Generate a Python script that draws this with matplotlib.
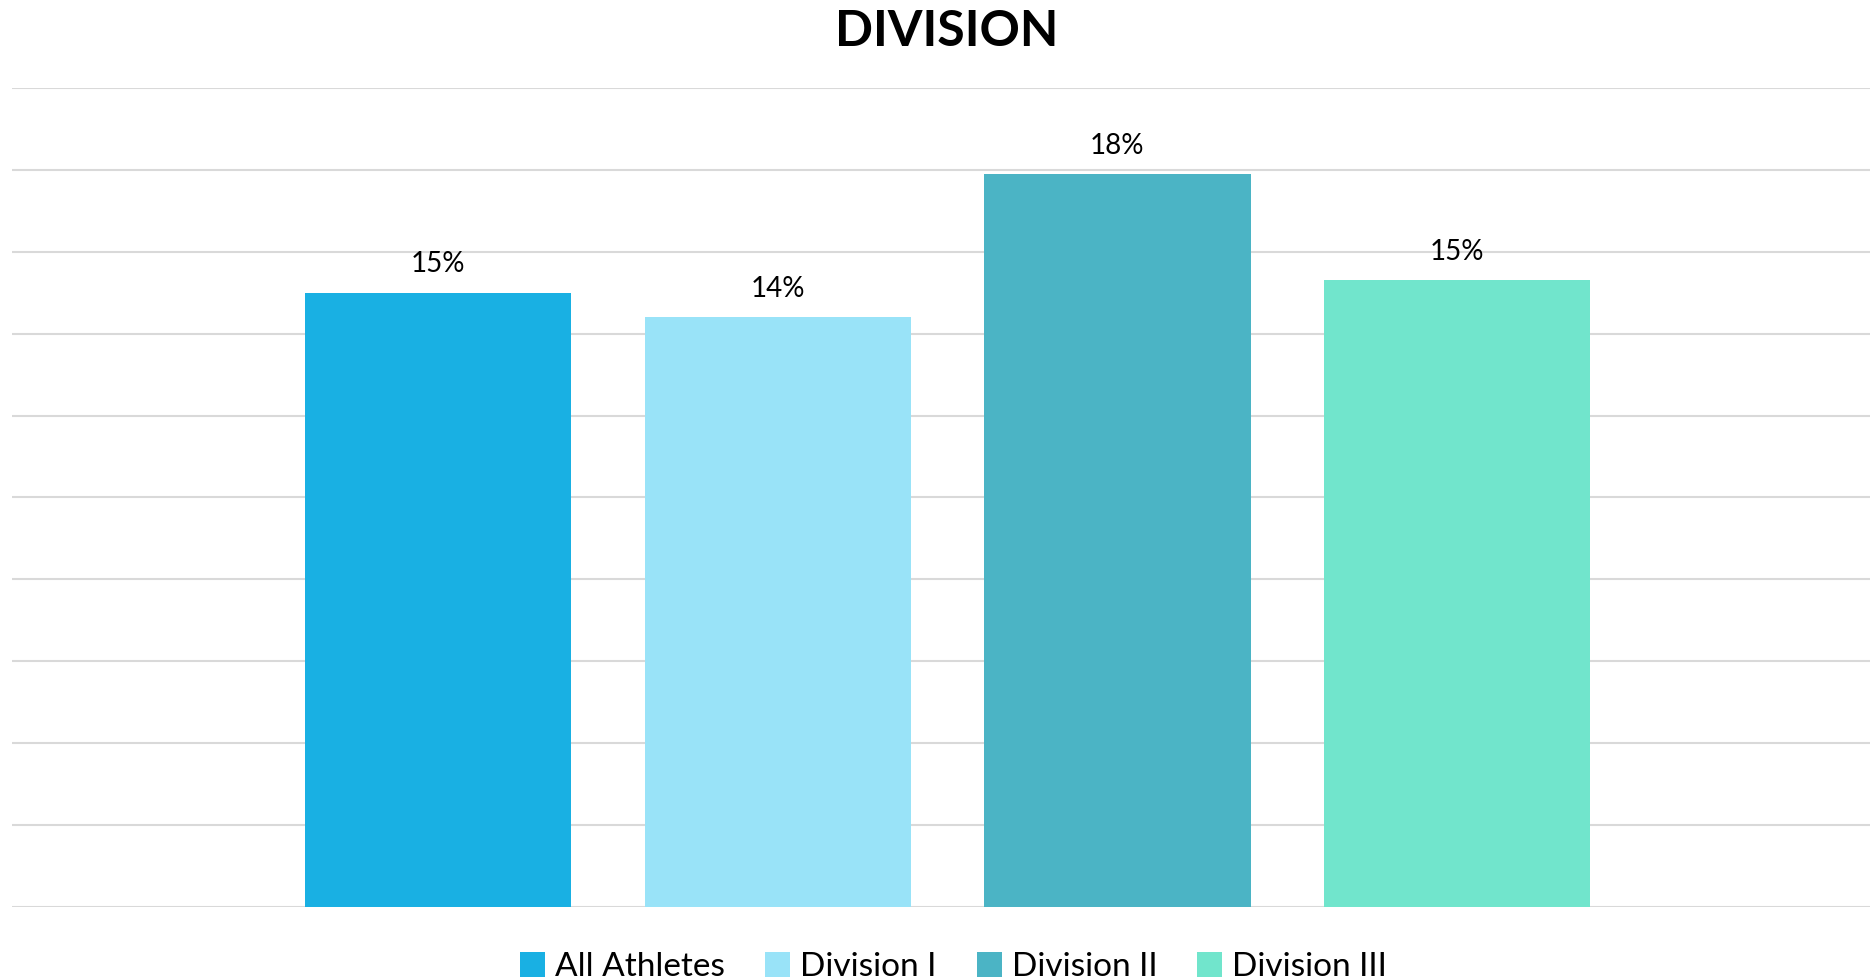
import matplotlib
matplotlib.use("Agg")
import matplotlib.pyplot as plt

plt.rcParams['font.family'] = ['Lato', 'DejaVu Sans']

categories = ["All Athletes", "Division I", "Division II", "Division III"]
values = [15.0, 14.4, 17.9, 15.3]
colors = ["#19B0E3", "#99E3F8", "#4BB4C5", "#71E5CC"]
title = "DIVISION"

fig = plt.figure(figsize=(18.7, 9.8), dpi=100)
ax = fig.add_axes([0.0064, 0.0745, 0.9936, 0.8357])

for i, (c, v, col) in enumerate(zip(categories, values, colors)):
    ax.bar(i, v, width=0.785, color=col, label=c, zorder=3)
    ax.annotate(f"{v:.0f}%", xy=(i, v), xytext=(0, 11), textcoords="offset points",
                ha="center", va="bottom", fontsize=20, color="#000000")

ax.set_xlim(-1.255, 4.216)
ax.set_ylim(0, 20)
ax.set_yticks(range(0, 21, 2))
ax.yaxis.grid(True, color="#D9D9D9", linewidth=1.5, zorder=0)
ax.set_axisbelow(True)
ax.tick_params(left=False, bottom=False, labelleft=False, labelbottom=False)
for s in ax.spines.values():
    s.set_visible(False)

fig.text(0.5064, 0.968, title, ha="center", va="center", fontsize=36, fontweight="bold")

fig.legend(loc="center", bbox_to_anchor=(0.51, 0.013), ncol=4, frameon=False,
           fontsize=24, handlelength=0.75, handleheight=0.75, handletextpad=0.3,
           columnspacing=1.2)

fig.savefig("out.png", dpi=100, facecolor="white")
